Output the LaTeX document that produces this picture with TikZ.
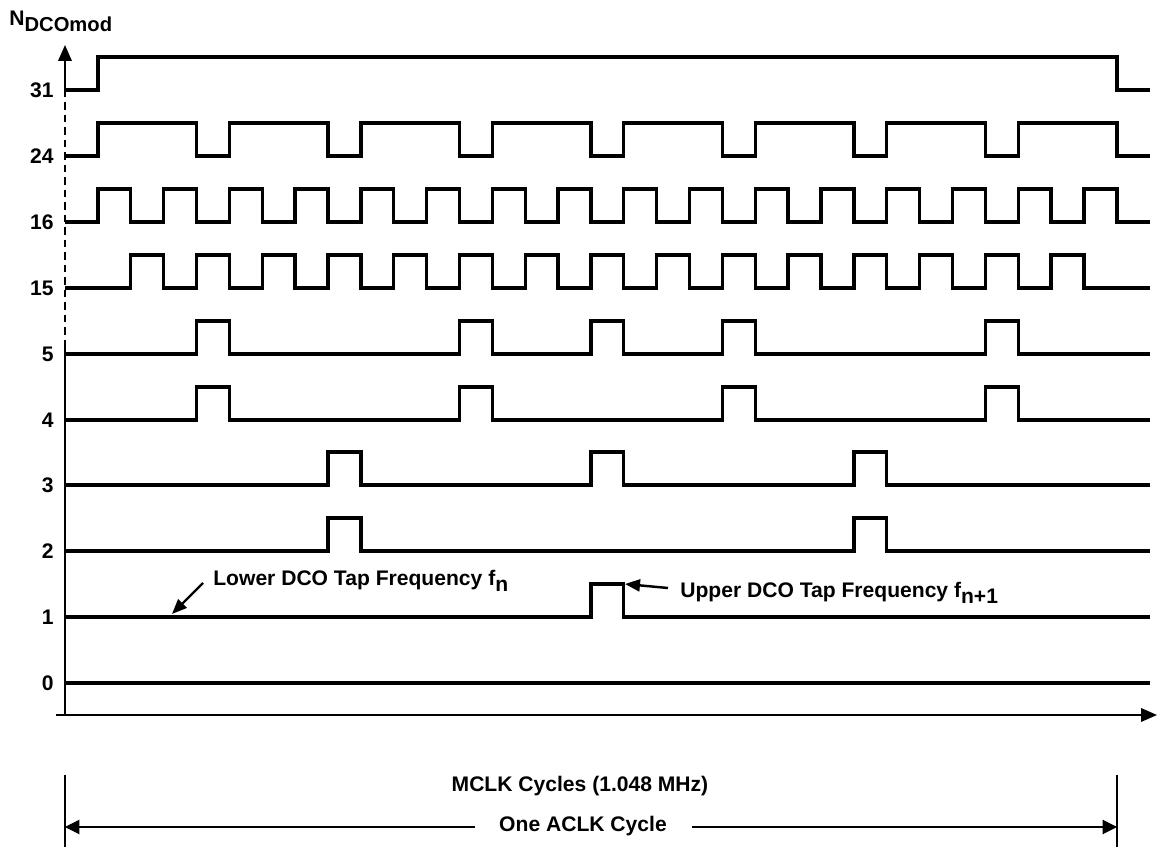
\documentclass[tikz,border=0pt]{standalone}
\usepackage{fontspec}
\setmainfont{Liberation Sans}
\usetikzlibrary{arrows.meta}
\begin{document}
\begin{tikzpicture}[x=0.02cm,y=-0.02cm,
  wave/.style={line width=1.9pt},
  axisline/.style={line width=1.2pt},
  thinline/.style={line width=0.6pt},
  lbl/.style={font=\fontsize{12}{14}\selectfont\bfseries, inner sep=0pt},
  ylbl/.style={lbl, anchor=east},
  bigtip/.style={-{Triangle[length=0.32cm,width=0.27cm]}},
  smalltip/.style={-{Triangle[length=0.3cm,width=0.24cm]}}
]
\def\cw{32.87}
\def\hh{33}
\useasboundingbox (0,0) rectangle (1157,847);
% axes
\coordinate (ytop) at (65,45);
\coordinate (y31) at (65,90);
\coordinate (ydash) at (65,340);
\coordinate (yorg) at (65,715);
\coordinate (xstart) at (56,715);
\coordinate (xend) at (1157,715);
\draw[axisline,bigtip] (y31) -- (ytop);
\draw[axisline,dash pattern=on 0.15cm off 0.1cm] (y31) -- (ydash);
\draw[axisline] (ydash) -- (yorg);
\draw[axisline,bigtip] (xstart) -- (xend);
\node[lbl, anchor=west] (ylabel) at (9,21) {N\raisebox{-0.55ex}{\fontsize{11.5}{13}\selectfont DCOmod}};
% row labels
\foreach \v/\y in {31/90,24/156,16/222,15/288,5/354,4/420,3/485,2/551,1/617,0/683}
  \node[ylbl] (lab\v) at (54,\y) {\v};
% row 31
\draw[wave] (65,90) -- ({65+\cw},90) -- ({65+\cw},{90-\hh}) -- ({65+32*\cw},{90-\hh}) -- ({65+32*\cw},90) -- ({65+33*\cw},90);
% row 24
\draw[wave] (65,156) -- ({65+\cw},156) -- ({65+\cw},{156-\hh})
  \foreach \k in {4,8,...,28} { -- ({65+\k*\cw},{156-\hh}) -- ({65+\k*\cw},156) -- ({65+(\k+1)*\cw},156) -- ({65+(\k+1)*\cw},{156-\hh}) }
  -- ({65+32*\cw},{156-\hh}) -- ({65+32*\cw},156) -- ({65+33*\cw},156);
% pulse rows
\foreach \y/\list in {222/{1,3,...,31}, 288/{2,4,...,30}, 354/{4,12,16,20,28}, 420/{4,12,20,28}, 485/{8,16,24}, 551/{8,24}, 617/{16}} {
  \draw[wave] (65,\y)
    \foreach \k in \list { -- ({65+\k*\cw},\y) -- ({65+\k*\cw},{\y-\hh}) -- ({65+(\k+1)*\cw},{\y-\hh}) -- ({65+(\k+1)*\cw},\y) }
    -- ({65+33*\cw},\y);
}
% row 0
\draw[wave] (65,683) -- ({65+33*\cw},683);
% annotations
\node[lbl, anchor=west] (lower) at (213,581) {Lower DCO Tap Frequency f\raisebox{-0.5ex}{n}};
\node[lbl, anchor=west] (upper) at (680,593) {Upper DCO Tap Frequency f\raisebox{-0.5ex}{n+1}};
\coordinate (lowtail) at (203,583);
\coordinate (lowtip) at (172,614);
\coordinate (uptail) at (668,588);
\coordinate (uptip) at (625,584);
\draw[line width=1.4pt,smalltip] (lowtail) -- (lowtip);
\draw[line width=1.4pt,smalltip] (uptail) -- (uptip);
% bottom
\coordinate (bl) at (65,775);
\coordinate (blb) at (65,847);
\coordinate (br) at (1117,775);
\coordinate (brb) at (1117,847);
\draw[thinline] (bl) -- (blb);
\draw[thinline] (br) -- (brb);
\node[lbl] (mclk) at (580,786) {MCLK Cycles (1.048 MHz)};
\node[lbl] (aclk) at (583,826) {One ACLK Cycle};
\coordinate (al) at (65,827);
\coordinate (ar) at (1117,827);
\coordinate (gl) at (475,827);
\coordinate (gr) at (692,827);
\draw[thinline,-{Triangle[length=0.29cm,width=0.29cm]}] (gl) -- (al);
\draw[thinline,-{Triangle[length=0.29cm,width=0.29cm]}] (gr) -- (ar);
\end{tikzpicture}
\end{document}
